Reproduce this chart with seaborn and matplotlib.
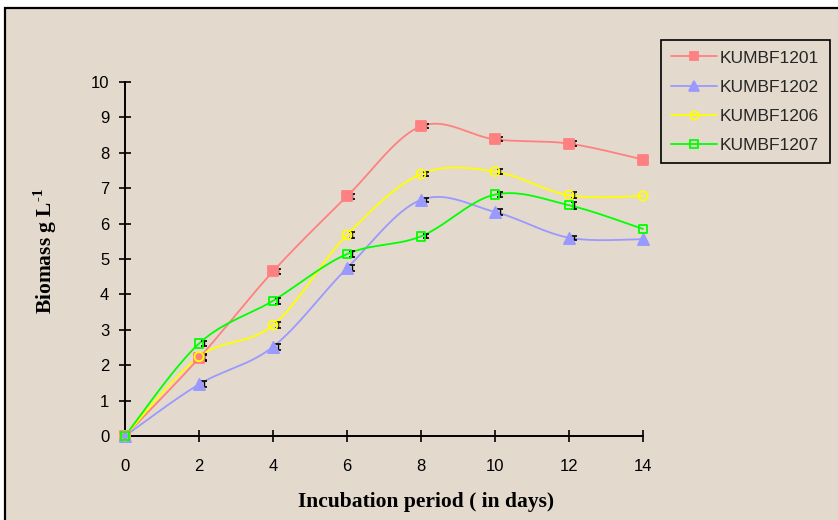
import numpy as np
import pandas as pd
import matplotlib
matplotlib.use("Agg")
import matplotlib.pyplot as plt
import matplotlib.transforms as mtransforms
from matplotlib.lines import Line2D
from matplotlib.patches import Rectangle
import seaborn as sns

# ---------------- data ----------------
days = [0, 2, 4, 6, 8, 10, 12, 14]
kumbf1201 = [0.0, 2.20, 4.65, 6.77, 8.75, 8.38, 8.26, 7.81]
kumbf1202 = [0.0, 1.46, 2.52, 4.74, 6.67, 6.33, 5.60, 5.56]
kumbf1206 = [0.0, 2.24, 3.13, 5.68, 7.40, 7.47, 6.80, 6.78]
kumbf1207 = [0.0, 2.61, 3.82, 5.14, 5.64, 6.82, 6.52, 5.85]
err1201 = [0.0, 0.08, 0.08, 0.08, 0.06, 0.06, 0.06, 0.0]
err1202 = [0.0, 0.08, 0.08, 0.08, 0.06, 0.08, 0.06, 0.0]
err1206 = [0.0, 0.08, 0.08, 0.08, 0.06, 0.08, 0.08, 0.0]
err1207 = [0.0, 0.08, 0.08, 0.08, 0.06, 0.08, 0.1, 0.0]
series_names = ["KUMBF1201", "KUMBF1202", "KUMBF1206", "KUMBF1207"]
x_ticks = [0, 2, 4, 6, 8, 10, 12, 14]
y_ticks = [0, 1, 2, 3, 4, 5, 6, 7, 8, 9, 10]

# ---------------- style ----------------
sns.set_theme(style="white")
plt.rcParams["font.family"] = ["Liberation Sans", "DejaVu Sans"]
plt.rcParams["mathtext.fontset"] = "custom"
plt.rcParams["mathtext.rm"] = "Liberation Serif:bold"
plt.rcParams["mathtext.bf"] = "Liberation Serif:bold"

BG = "#e3dacd"
colors = ["#ff8080", "#9999ff", "#ffff00", "#00ff00"]
markers = ["s", "^", "o", "s"]
mfaces = ["#ff8080", "#9999ff", "none", "none"]
msizes = [6.5, 8, 6.5, 6]

W, H = 838, 520
fig = plt.figure(figsize=(W / 100, H / 100), dpi=100, facecolor="white")
fig.patches.append(Rectangle((4.5 / W, -0.1), 1.2, 1.1 - 8.5 / H, transform=fig.transFigure,
                             facecolor=BG, edgecolor="black", linewidth=1.6, zorder=-10))

ax = fig.add_axes([125 / W, (H - 436) / H, (643 - 125) / W, (436 - 82) / H])
ax.set_facecolor("none")

def smooth(xs, ys, n=40):
    xs = np.asarray(xs, float); ys = np.asarray(ys, float)
    P = np.column_stack([xs, ys])
    Pext = np.vstack([P[0], P, P[-1]])
    out = []
    t = np.linspace(0, 1, n)[:, None]
    for i in range(len(P) - 1):
        p0, p1, p2, p3 = Pext[i], Pext[i + 1], Pext[i + 2], Pext[i + 3]
        b1 = p1 + (p2 - p0) / 6.0
        b2 = p2 - (p3 - p1) / 6.0
        seg = ((1 - t) ** 3) * p1 + 3 * ((1 - t) ** 2) * t * b1 + 3 * (1 - t) * t ** 2 * b2 + t ** 3 * p2
        out.append(seg if i == 0 else seg[1:])
    out = np.vstack(out)
    return out[:, 0], out[:, 1]

all_vals = [kumbf1201, kumbf1202, kumbf1206, kumbf1207]
all_errs = [err1201, err1202, err1206, err1207]
err_trans = mtransforms.offset_copy(ax.transData, fig=fig, x=3.6, y=0, units="points")

handles = []
for i, (name, vals, errs) in enumerate(zip(series_names, all_vals, all_errs)):
    sx, sy = smooth(days, vals)
    ax.plot(sx, sy, color=colors[i], lw=1.3, zorder=2)
    ax.errorbar(days[1:-1], vals[1:-1], yerr=errs[1:-1], fmt="none", ecolor="black",
                elinewidth=1.0, capsize=2.5, capthick=1.2, transform=err_trans, zorder=3)
    df = pd.DataFrame({"day": days, "val": vals})
    sns.scatterplot(data=df, x="day", y="val", ax=ax, marker=markers[i], s=msizes[i] ** 2,
                    facecolor=mfaces[i], edgecolor=colors[i], linewidth=1.3, zorder=4, legend=False)
    handles.append(Line2D([], [], color=colors[i], lw=1.3, marker=markers[i],
                          markersize=msizes[i] * 0.9, markerfacecolor=mfaces[i],
                          markeredgecolor=colors[i], markeredgewidth=1.3))

ax.set_xlim(0, 14)
ax.set_ylim(0, 10)
ax.set_xticks(x_ticks)
ax.set_yticks(y_ticks)
ax.set_xticklabels([str(v) for v in x_ticks])
ax.set_yticklabels([str(v) for v in y_ticks])
for s in ["top", "right"]:
    ax.spines[s].set_visible(False)
for s in ["left", "bottom"]:
    ax.spines[s].set_color("black")
    ax.spines[s].set_linewidth(1.4)
ax.tick_params(axis="both", direction="inout", length=8.6, width=1.2, color="black",
               labelsize=12, labelcolor="black", left=True, bottom=True)
ax.tick_params(axis="x", pad=12)
ax.tick_params(axis="y", pad=7)
for art in ax.collections + ax.lines:
    art.set_clip_on(False)

ax.set_xlabel("Incubation period ( in days)", fontfamily="Liberation Serif", fontweight="bold",
              fontsize=15.5, color="black")
ax.xaxis.set_label_coords((426 - 125) / 518, -(492 - 436) / 354)
ax.set_ylabel("Biomass g L$^{\\text{-1}}$", fontfamily="Liberation Serif", fontweight="bold",
              fontsize=15.5, color="black")
ax.yaxis.set_label_coords((59 - 125) / 518, (436 - 251) / 354)

leg = fig.legend(handles, series_names, loc="upper left", bbox_to_anchor=(661 / W, 1 - 40 / H),
                 borderaxespad=0, frameon=True, fancybox=False, edgecolor="black",
                 facecolor=BG, framealpha=1, fontsize=12.5, handlelength=2.6, handletextpad=0.2,
                 labelspacing=0.8, borderpad=0.6)
leg.get_frame().set_linewidth(1.2)

fig.savefig("out.png", dpi=100, facecolor="white")
